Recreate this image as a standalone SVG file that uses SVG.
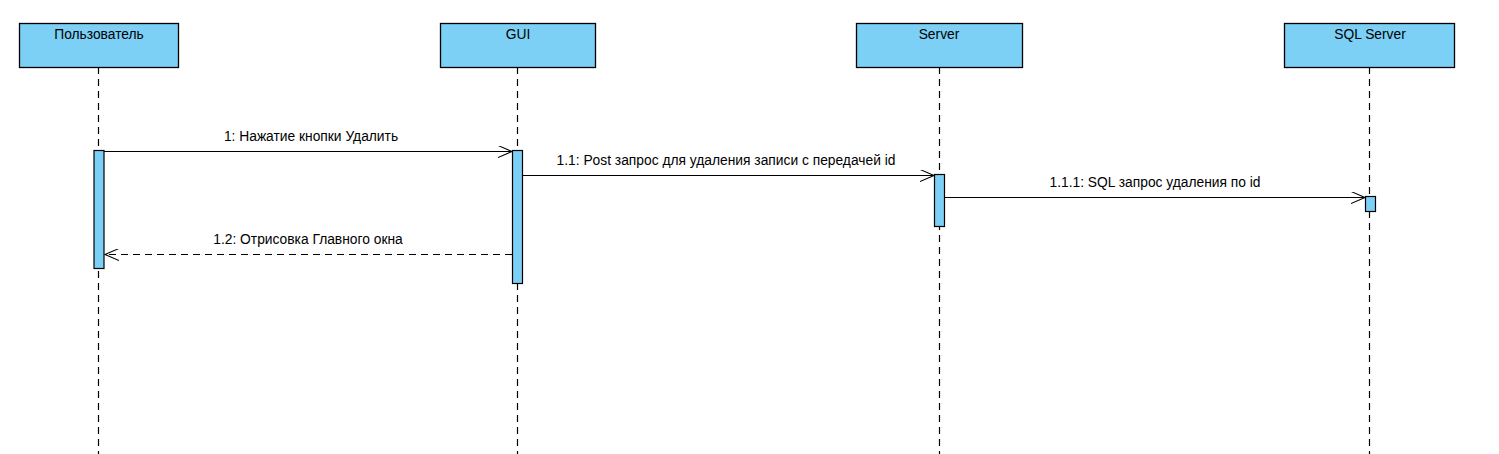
<svg xmlns="http://www.w3.org/2000/svg" width="1499" height="454" viewBox="0 0 1499 454">
<defs>
<style>
.box{fill:#7ccff5;stroke:#000;stroke-width:1.3}
.life{stroke:#000;stroke-width:1.2;stroke-dasharray:7,5;fill:none}
.act{fill:#7ccff5;stroke:#000;stroke-width:1.2}
.msg{stroke:#000;stroke-width:1.1;fill:none}
.ret{stroke:#000;stroke-width:1.1;fill:none;stroke-dasharray:7,5}
text{font-family:"Liberation Sans",Arial,sans-serif;font-size:13.8px;fill:#000;text-anchor:middle}
</style>
<marker id="open" markerWidth="16" markerHeight="12" refX="14" refY="6" orient="auto" markerUnits="userSpaceOnUse">
<path d="M0,0 L14,6 L0,12" fill="none" stroke="#000" stroke-width="1.1"/>
</marker>
</defs>
<g id="user">
<line class="life" x1="98.5" y1="67" x2="98.5" y2="454"/>
<rect class="box" x="19.5" y="23.5" width="159" height="44"/>
<text x="99" y="39">Пользователь</text>
<rect class="act" x="94" y="150.5" width="10" height="118"/>
</g>
<g id="gui">
<line class="life" x1="517.5" y1="67" x2="517.5" y2="454"/>
<rect class="box" x="440.5" y="23.5" width="155" height="44"/>
<text x="518" y="39">GUI</text>
<rect class="act" x="512.5" y="150.5" width="10" height="133"/>
</g>
<g id="server">
<line class="life" x1="939.5" y1="67" x2="939.5" y2="454"/>
<rect class="box" x="856.5" y="23.5" width="166" height="44"/>
<text x="939" y="39">Server</text>
<rect class="act" x="934.5" y="174.5" width="10" height="52"/>
</g>
<g id="sqlserver">
<line class="life" x1="1369.5" y1="67" x2="1369.5" y2="454"/>
<rect class="box" x="1284.5" y="23.5" width="170" height="44"/>
<text x="1370" y="39">SQL Server</text>
<rect class="act" x="1365.5" y="196.5" width="10" height="15"/>
</g>
<g id="connectors">
<line class="msg" x1="104" y1="151.5" x2="512" y2="151.5" marker-end="url(#open)"/>
<text x="311" y="141">1: Нажатие кнопки Удалить</text>
<line class="msg" x1="523" y1="175.5" x2="934" y2="175.5" marker-end="url(#open)"/>
<text x="726" y="165">1.1: Post запрос для удаления записи с передачей id</text>
<line class="msg" x1="945" y1="197.5" x2="1365" y2="197.5" marker-end="url(#open)"/>
<text x="1155" y="187">1.1.1: SQL запрос удаления по id</text>
<line class="ret" x1="512" y1="254.5" x2="105" y2="254.5" marker-end="url(#open)"/>
<text x="308" y="244">1.2: Отрисовка Главного окна</text>
</g>
</svg>
